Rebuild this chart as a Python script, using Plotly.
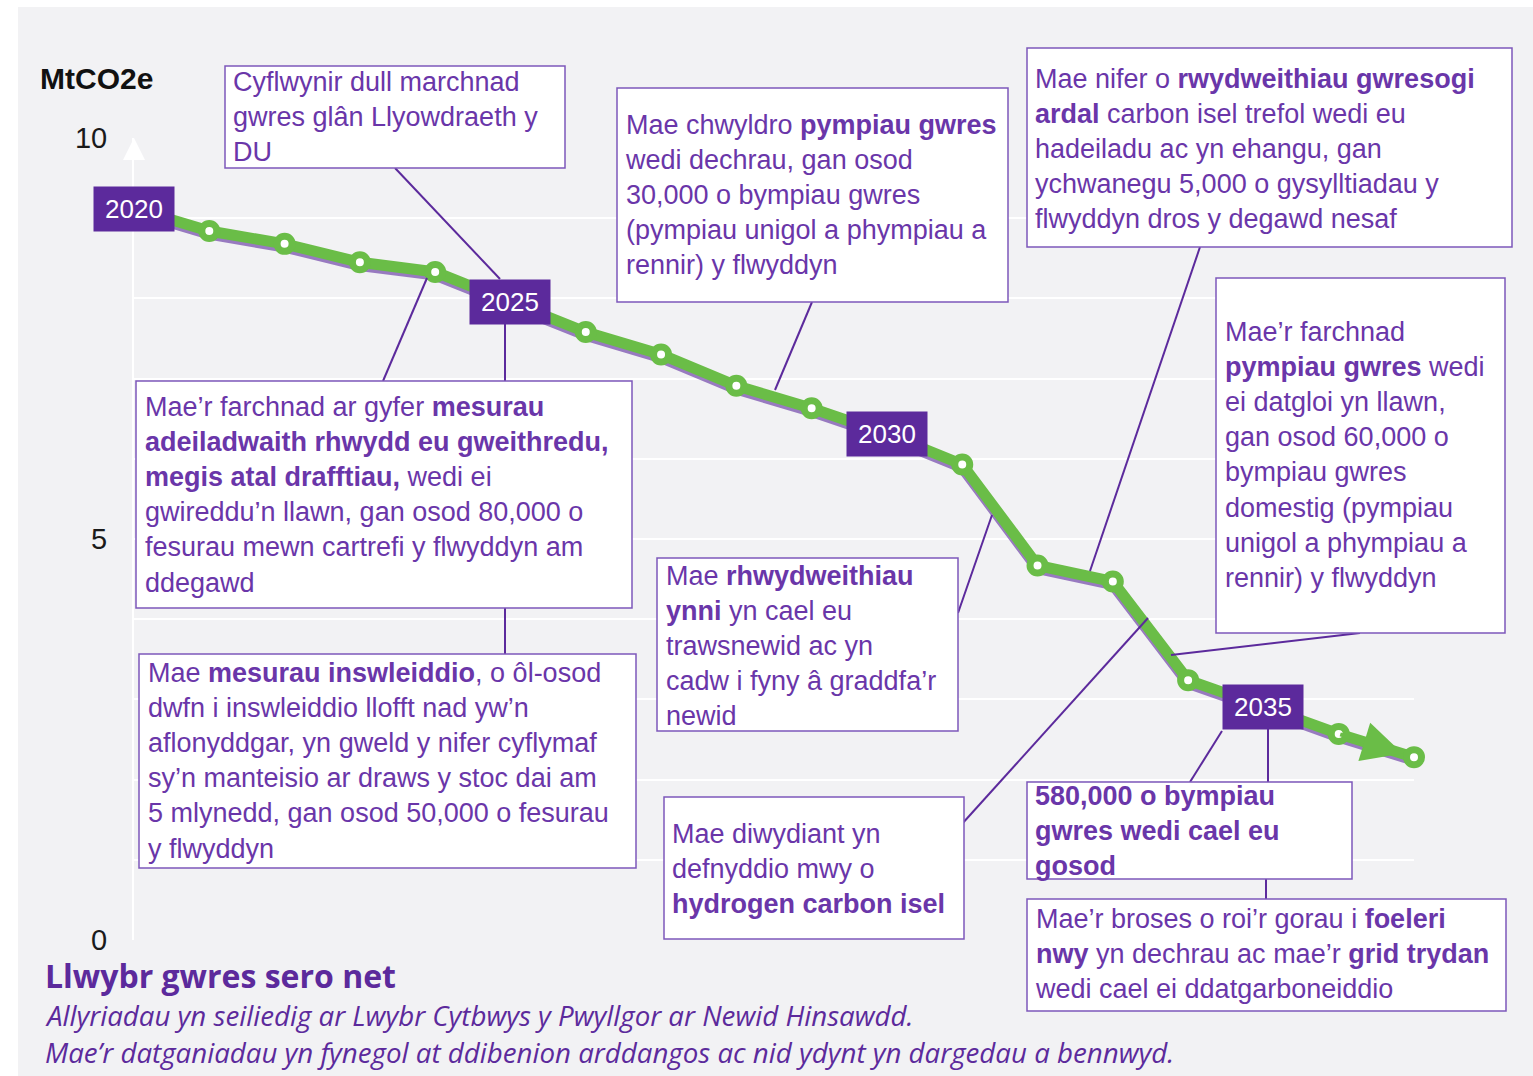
import plotly.graph_objects as go

# ---------------- data ----------------
years = list(range(2020, 2038))
emissions = [9.12, 8.84, 8.68, 8.45, 8.33, 7.96, 7.58, 7.30, 6.91, 6.63,
             6.31, 5.93, 4.67, 4.47, 3.24, 2.91, 2.57, 2.28]
label_years = [2020, 2025, 2030, 2035]
y_tick_vals = [0, 1, 2, 3, 4, 5, 6, 7, 8, 9, 10]
y_tick_text = ["0", "", "", "", "", "5", "", "", "", "", "10"]

# ---------------- styles ----------------
GREEN = "#6abd47"
PURPLE = "#5c2a9c"
TEXT_PURPLE = "#6a36a9"
BORDER = "#7e58ba"
BG = "#f2f2f4"
FONT = "Liberation Sans, Arial, sans-serif"
TITLE_FONT = "Open Sans, sans-serif"

W, H = 1533, 1076
L, R, T, B = 134, 1414, 138, 940   # plot area in page pixels


def px(x):
    return (x - L) / (R - L)


def py(y):
    return (B - y) / (B - T)


fig = go.Figure()

# shadow under the line (same data on an overlay axis shifted a few pixels)
fig.add_trace(go.Scatter(x=years, y=emissions, yaxis="y2", mode="lines",
                         line=dict(color="rgba(92,42,156,0.6)", width=11),
                         hoverinfo="skip", showlegend=False))
fig.add_trace(go.Scatter(x=years, y=emissions, yaxis="y3", mode="lines+markers",
                         line=dict(color=GREEN, width=11),
                         marker=dict(size=15, color="white",
                                     line=dict(color=GREEN, width=7)),
                         cliponaxis=False, showlegend=False))

shapes = []
annotations = []

# grey background panel (white strip top/left as in reference)
shapes.append(dict(type="rect", xref="paper", yref="paper", layer="below",
                   x0=px(18), x1=px(W + 5), y0=py(7), y1=py(H + 5),
                   fillcolor=BG, line=dict(width=0)))

# connector lines (page pixels)
connectors = [
    ((395, 168), (500, 279)),
    ((812, 302), (775, 390)),
    ((1200, 247), (1090, 571)),
    ((383, 381), (427, 278)),
    ((505, 323), (505, 381)),
    ((505, 608), (505, 654)),
    ((958, 613), (992, 515)),
    ((952, 835), (1148, 618)),
    ((1360, 633), (1171, 655)),
    ((1222, 731), (1190, 782)),
    ((1268, 728), (1268, 782)),
    ((1266, 879), (1266, 899)),
]
for (x0, y0), (x1, y1) in connectors:
    shapes.append(dict(type="line", xref="paper", yref="paper", layer="above",
                       x0=px(x0), y0=py(y0), x1=px(x1), y1=py(y1),
                       line=dict(color=PURPLE, width=2)))

# text boxes: rect (x0, y0, x1, y1), text left x, text centre y, text
boxes = [
    ((225, 66, 565, 168), 233, 117,
     "Cyflwynir dull marchnad<br>gwres glân Llyowdraeth y<br>DU"),
    ((617, 88, 1008, 302), 625, 195,
     "Mae chwyldro <b>pympiau gwres</b><br>wedi dechrau, gan osod<br>30,000 o bympiau gwres<br>"
     "(pympiau unigol a phympiau a<br>rennir) y flwyddyn"),
    ((1027, 48, 1512, 247), 1035, 148.5,
     "Mae nifer o <b>rwydweithiau gwresogi</b><br><b>ardal</b> carbon isel trefol wedi eu<br>"
     "hadeiladu ac yn ehangu, gan<br>ychwanegu 5,000 o gysylltiadau y<br>flwyddyn dros y degawd nesaf"),
    ((136, 381, 632, 608), 145, 494.5,
     "Mae’r farchnad ar gyfer <b>mesurau</b><br><b>adeiladwaith rhwydd eu gweithredu,</b><br>"
     "<b>megis atal drafftiau,</b> wedi ei<br>gwireddu’n llawn, gan osod 80,000 o<br>"
     "fesurau mewn cartrefi y flwyddyn am<br>ddegawd"),
    ((139, 654, 636, 868), 148, 760.5,
     "Mae <b>mesurau inswleiddio</b>, o ôl-osod<br>dwfn i inswleiddio llofft nad yw’n<br>"
     "aflonyddgar, yn gweld y nifer cyflymaf<br>sy’n manteisio ar draws y stoc dai am<br>"
     "5 mlynedd, gan osod 50,000 o fesurau<br>y flwyddyn"),
    ((657, 558, 958, 731), 666, 645.5,
     "Mae <b>rhwydweithiau</b><br><b>ynni</b> yn cael eu<br>trawsnewid ac yn<br>"
     "cadw i fyny â graddfa’r<br>newid"),
    ((664, 797, 964, 939), 672, 868.5,
     "Mae diwydiant yn<br>defnyddio mwy o<br><b>hydrogen carbon isel</b>"),
    ((1216, 278, 1505, 633), 1225, 455,
     "Mae’r farchnad<br><b>pympiau gwres</b> wedi<br>ei datgloi yn llawn,<br>gan osod 60,000 o<br>"
     "bympiau gwres<br>domestig (pympiau<br>unigol a phympiau a<br>rennir) y flwyddyn"),
    ((1027, 782, 1352, 879), 1035, 830.5,
     "<b>580,000 o bympiau</b><br><b>gwres wedi cael eu</b><br><b>gosod</b>"),
    ((1027, 899, 1506, 1011), 1035, 954.5,
     "Mae’r broses o roi’r gorau i <b>foeleri</b><br><b>nwy</b> yn dechrau ac mae’r "
     "<b>grid trydan</b><br>wedi cael ei ddatgarboneiddio"),
]
for (x0, y0, x1, y1), tx, ty, text in boxes:
    shapes.append(dict(type="rect", xref="paper", yref="paper", layer="above",
                       x0=px(x0), y0=py(y0), x1=px(x1), y1=py(y1),
                       fillcolor="white", line=dict(color=BORDER, width=1.5)))
    annotations.append(dict(xref="paper", yref="paper", x=px(tx), y=py(ty),
                            xanchor="left", yanchor="middle", align="left",
                            showarrow=False, text=text, borderpad=0, borderwidth=0,
                            font=dict(family=FONT, size=27, color=TEXT_PURPLE)))

# year labels at data points
for yr in label_years:
    val = emissions[years.index(yr)]
    annotations.append(dict(x=yr, y=val, xref="x", yref="y", showarrow=False,
                            text=str(yr), bgcolor=PURPLE, width=80, height=44,
                            borderpad=0, xanchor="center", yanchor="middle",
                            font=dict(family=FONT, size=26, color="white")))

# arrow head at end of line
annotations.append(dict(x=years[-1], y=emissions[-1], ax=years[-2], ay=emissions[-2],
                        xref="x", yref="y", axref="x", ayref="y", text="",
                        showarrow=True, arrowhead=2, arrowsize=2.0, arrowwidth=4,
                        arrowcolor=GREEN, standoff=12))
# white arrow on top of y axis
annotations.append(dict(x=years[0], y=10, ax=years[0], ay=9.75,
                        xref="x", yref="y", axref="x", ayref="y", text="",
                        showarrow=True, arrowhead=2, arrowsize=2.2, arrowwidth=2,
                        arrowcolor="white", standoff=0))

# axis title and chart titles
annotations.append(dict(xref="paper", yref="paper", x=px(38), y=py(78),
                        xanchor="left", yanchor="middle", showarrow=False,
                        text="<b>MtCO2e</b>",
                        font=dict(family=FONT, size=30, color="#111111")))
annotations.append(dict(xref="paper", yref="paper", x=px(43), y=py(975),
                        xanchor="left", yanchor="middle", showarrow=False,
                        text="<b>Llwybr gwres sero net</b>",
                        font=dict(family=TITLE_FONT, size=32, color=PURPLE)))
annotations.append(dict(xref="paper", yref="paper", x=px(43), y=py(1015),
                        xanchor="left", yanchor="middle", showarrow=False,
                        text="<i>Allyriadau yn seiliedig ar Lwybr Cytbwys y Pwyllgor ar Newid Hinsawdd.</i>",
                        font=dict(family=TITLE_FONT, size=27.7, color=PURPLE)))
annotations.append(dict(xref="paper", yref="paper", x=px(43), y=py(1052),
                        xanchor="left", yanchor="middle", showarrow=False,
                        text="<i>Mae’r datganiadau yn fynegol at ddibenion arddangos ac nid ydynt yn dargedau a bennwyd.</i>",
                        font=dict(family=TITLE_FONT, size=27.7, color=PURPLE)))

fig.update_layout(
    width=W, height=H,
    margin=dict(l=L, r=W - R, t=T, b=H - B, pad=0),
    paper_bgcolor="white",
    plot_bgcolor="rgba(0,0,0,0)",
    showlegend=False,
    xaxis=dict(range=[years[0], years[-1]], showgrid=False, zeroline=False,
               showticklabels=False, ticks="", showline=False, fixedrange=True),
    yaxis=dict(range=[0, 10], tickvals=y_tick_vals, ticktext=y_tick_text,
               showgrid=True, gridcolor="white", gridwidth=1.5, zeroline=False,
               showline=True, linecolor="white", linewidth=2, ticks="",
               ticklabelstandoff=19,
               tickfont=dict(family=FONT, size=29, color="#1a1a1a")),
    yaxis2=dict(range=[0.04, 10.04], overlaying="y", visible=False),
    yaxis3=dict(range=[0, 10], overlaying="y", visible=False),
    shapes=shapes,
    annotations=annotations,
)

fig.write_html("out.html", config={"displayModeBar": False},
               post_script="document.body.style.margin='0';")
